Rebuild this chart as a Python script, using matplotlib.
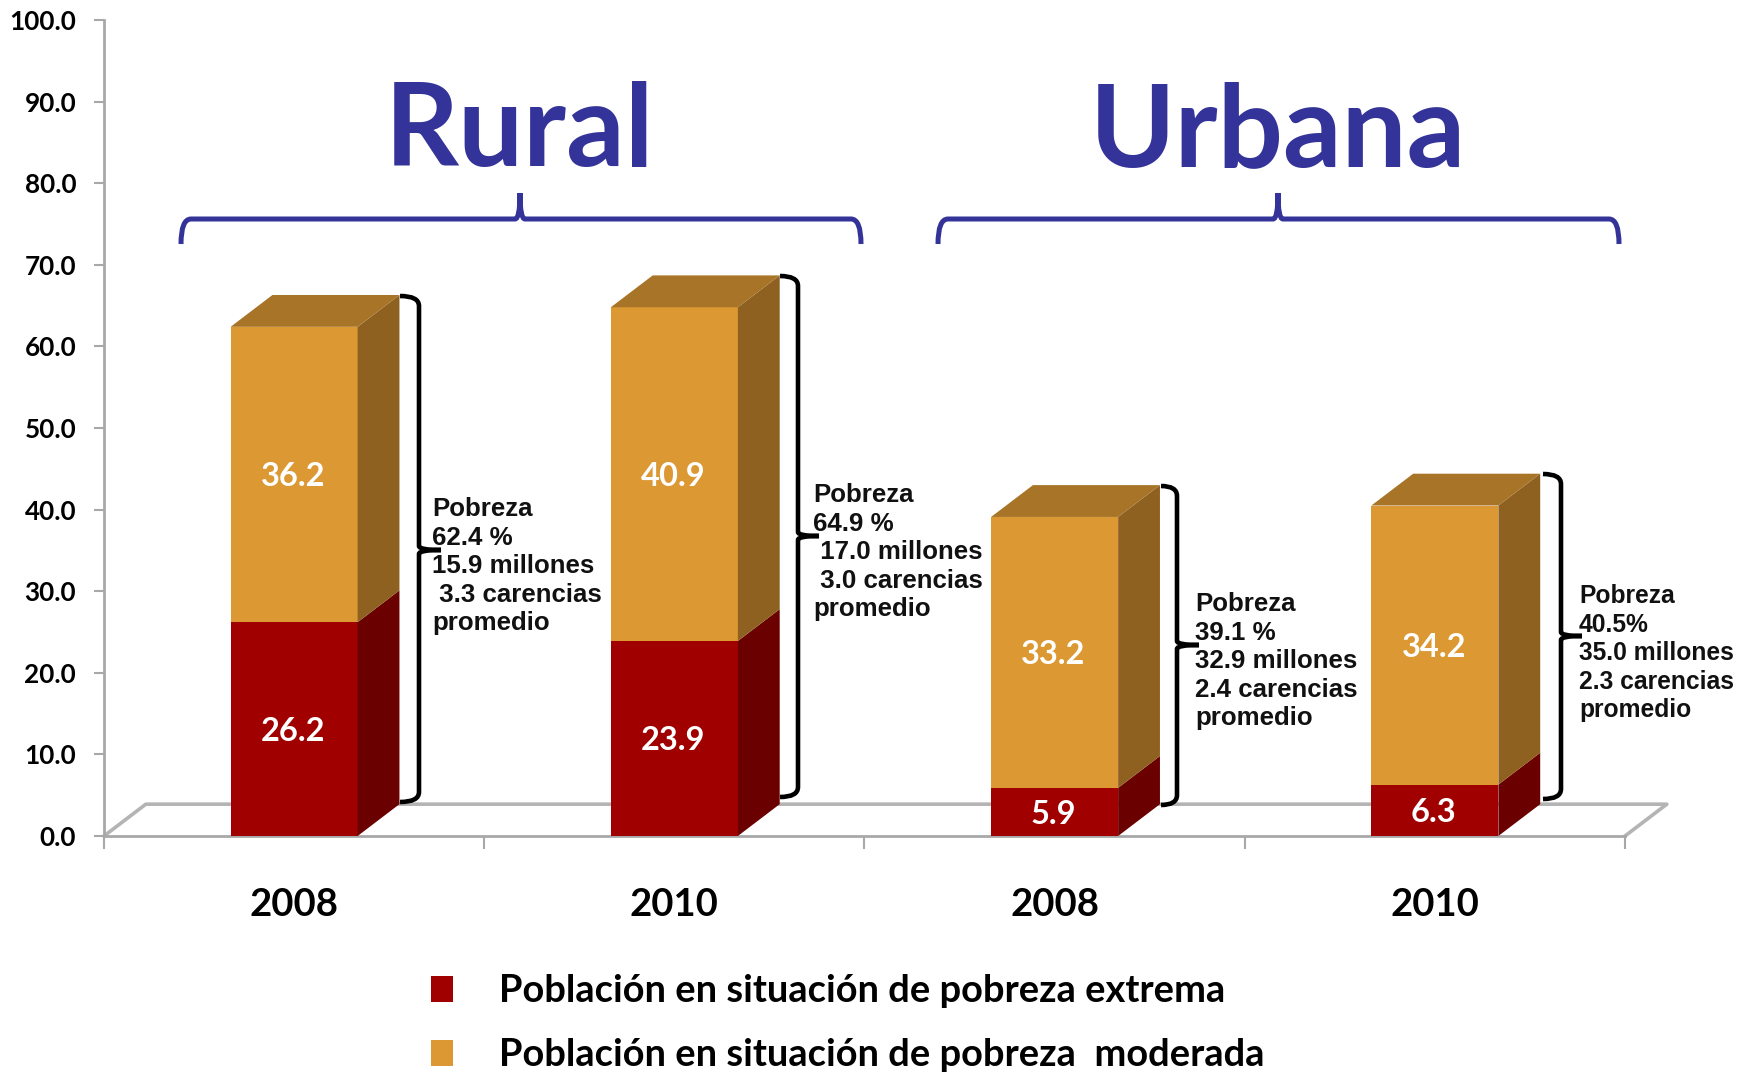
import matplotlib
matplotlib.use('Agg')
import matplotlib.pyplot as plt
from matplotlib.patches import PathPatch, Polygon, Patch
from matplotlib.path import Path
from matplotlib.transforms import Affine2D

W, H = 1740, 1072

years = ['2008', '2010', '2008', '2010']
extrema = [26.2, 23.9, 5.9, 6.3]
moderada = [36.2, 40.9, 33.2, 34.2]
notas = ['Pobreza\n62.4 %\n15.9 millones\n 3.3 carencias\npromedio',
         'Pobreza\n64.9 %\n 17.0 millones\n 3.0 carencias\npromedio',
         'Pobreza\n39.1 %\n32.9 millones\n2.4 carencias\npromedio',
         'Pobreza\n40.5%\n35.0 millones\n2.3 carencias\npromedio']
yticks = [0, 10, 20, 30, 40, 50, 60, 70, 80, 90, 100]
groups = ['Rural', 'Urbana']
leg_labels = ['Población en situación de pobreza extrema',
              'Población en situación de pobreza  moderada']

RED, RED_SIDE = '#A00000', '#6A0000'
ORG, ORG_SIDE, ORG_TOP = '#DC9832', '#8E6120', '#A87428'
BLUE = '#333399'
GRAY = '#A8A8A8'
BOLD = ['Lato', 'DejaVu Sans']

fig = plt.figure(figsize=(W / 100, H / 100), dpi=100)
ax = fig.add_axes([104 / W, (H - 836) / H, (1625 - 104) / W, (836 - 20) / H])
ax.set_xlim(0, 4)
ax.set_ylim(0, 100)
for s in ['top', 'right']:
    ax.spines[s].set_visible(False)
for s in ['left', 'bottom']:
    ax.spines[s].set_color(GRAY)
    ax.spines[s].set_linewidth(2)

# pixel coords, origin top left, for the drawn-on shapes
px = Affine2D().scale(1 / W, -1 / H).translate(0, 1) + fig.transFigure

xs = [0.5, 1.5, 2.5, 3.5]
bw = 0.334
dx, dy = 0.11, 3.9

# floor of the 3d chart
ax.plot([0, dx, 4 + dx, 4], [0, dy, dy, 0], color='#B4B4B4', lw=2.6, clip_on=False, zorder=1)

ax.bar(xs, extrema, bw, color=RED, zorder=3)
ax.bar(xs, moderada, bw, bottom=extrema, color=ORG, zorder=3)

for x, e, m in zip(xs, extrema, moderada):
    r = x + bw / 2
    t = e + m
    ax.add_patch(Polygon([(r, 0), (r + dx, dy), (r + dx, e + dy), (r, e)], fc=RED_SIDE, ec='none', zorder=3))
    ax.add_patch(Polygon([(r, e), (r + dx, e + dy), (r + dx, t + dy), (r, t)], fc=ORG_SIDE, ec='none', zorder=3))
    ax.add_patch(Polygon([(r - bw, t), (r - bw + dx, t + dy), (r + dx, t + dy), (r, t)], fc=ORG_TOP, ec='none', zorder=3))
    ax.text(x - 0.003, e / 2 - 0.3, str(e), color='white', ha='center', va='center', fontsize=23.5,
            fontweight='bold', family=BOLD, zorder=4)
    ax.text(x - 0.003, e + m / 2 - 0.3, str(m), color='white', ha='center', va='center', fontsize=23.5,
            fontweight='bold', family=BOLD, zorder=4)

ax.set_yticks(yticks)
ax.set_yticklabels(['%.1f' % v for v in yticks], fontsize=18.8, fontweight='bold', family=BOLD)
ax.tick_params(axis='y', length=7, width=1.5, color=GRAY, pad=13)
ax.set_xticks([0, 1, 2, 3, 4])
ax.set_xticklabels([])
ax.tick_params(axis='x', which='major', length=9, width=1.5, color=GRAY)
ax.set_xticks(xs, minor=True)
ax.set_xticklabels(years, minor=True, fontsize=27.5, fontweight='bold', family=BOLD)
ax.tick_params(axis='x', which='minor', length=0, pad=37.5)


def brace_black(x0, xv, xt, y0, ym, y1):
    verts = [(x0, y0), (xv, y0), (xv, y0 + 10), (xv, ym - 4), (xv, ym), (xt, ym),
             (xv, ym), (xv, ym + 4), (xv, y1 - 10), (xv, y1), (x0, y1)]
    codes = [Path.MOVETO, Path.CURVE3, Path.CURVE3, Path.LINETO, Path.CURVE3, Path.CURVE3,
             Path.CURVE3, Path.CURVE3, Path.LINETO, Path.CURVE3, Path.CURVE3]
    fig.add_artist(PathPatch(Path(verts, codes), fc='none', ec='black', lw=3.3, transform=px, capstyle='butt'))


def brace_blue(x0, xc, x1):
    y0, yl, yt = 244, 219, 193
    verts = [(x0, y0), (x0, yl), (x0 + 10, yl), (xc - 5, yl), (xc, yl), (xc, yt),
             (xc, yl), (xc + 5, yl), (x1 - 10, yl), (x1, yl), (x1, y0)]
    codes = [Path.MOVETO, Path.CURVE3, Path.CURVE3, Path.LINETO, Path.CURVE3, Path.CURVE3,
             Path.CURVE3, Path.CURVE3, Path.LINETO, Path.CURVE3, Path.CURVE3]
    fig.add_artist(PathPatch(Path(verts, codes), fc='none', ec=BLUE, lw=3.6, transform=px, capstyle='butt'))


brace_black(400, 419, 441, 296, 550, 802)
brace_black(780, 798, 819, 276, 536, 797)
brace_black(1161, 1177, 1199, 486, 645, 805)
brace_black(1543, 1561, 1582, 474, 636, 799)

brace_blue(181, 520, 861)
brace_blue(938, 1278, 1619)

note_pos = [(432, 497), (813, 483), (1195, 592), (1579, 584)]
note_size = [18.6, 18.6, 18.6, 17.7]
for (nx, ny), s, size in zip(note_pos, notas, note_size):
    fig.text(nx, ny, s, transform=px, family='Liberation Sans', fontweight='bold', fontsize=size,
             ha='left', va='top', linespacing=1.24, color='#111111')

for name, xc in zip(groups, [520, 1278]):
    fig.text(xc, 166, name, transform=px, color=BLUE, family=BOLD, fontweight='bold', fontsize=83,
             ha='center', va='baseline')

handles = [Patch(fc=RED, ec='none'), Patch(fc=ORG, ec='none')]
fig.legend(handles, leg_labels, loc='lower left', bbox_to_anchor=(431 / W, 0.0), borderaxespad=0, borderpad=0,
           frameon=False, handlelength=0.58, handleheight=0.67, handletextpad=1.22, labelspacing=0.78,
           prop={'family': 'Lato', 'weight': 'bold', 'size': 27.4})

fig.savefig('out.png', dpi=100)
